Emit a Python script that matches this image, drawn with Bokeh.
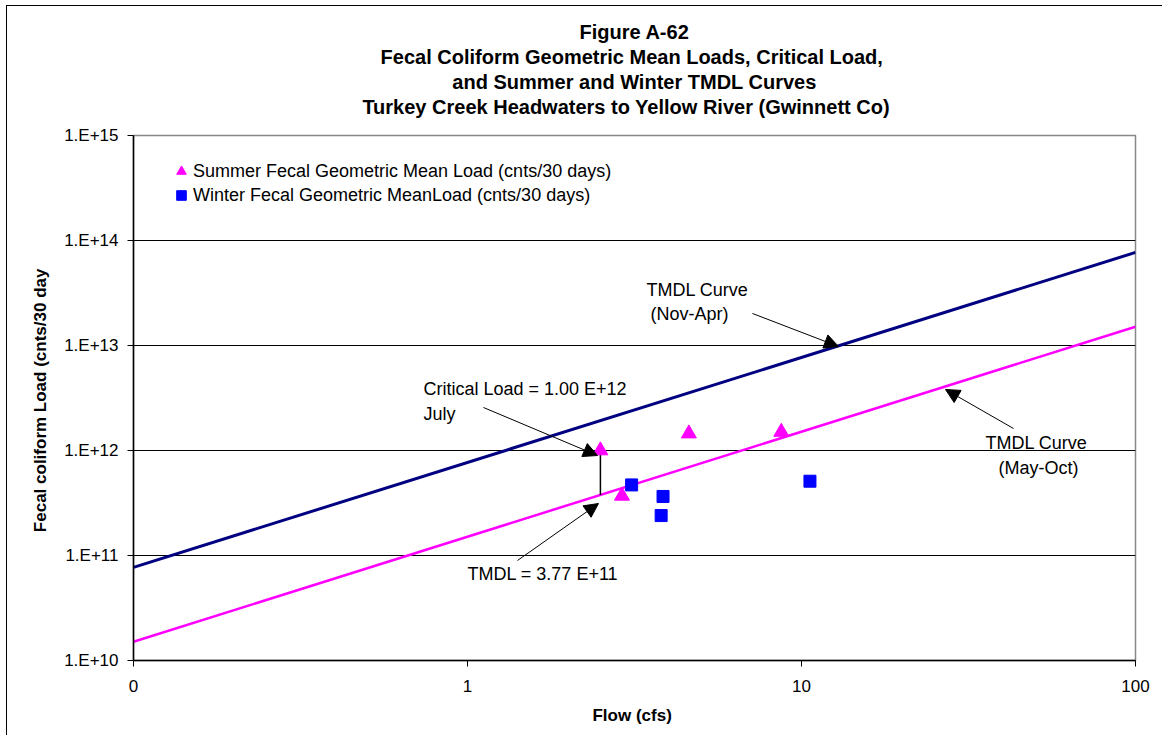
from bokeh.plotting import figure
from bokeh.models import (Range1d, FixedTicker, CustomJSTickFormatter, Label, Arrow,
                          NormalHead, Legend, LegendItem, Title)
from bokeh.embed import file_html
from bokeh.resources import INLINE

# --- data -------------------------------------------------------------
flow_ends = [0.1, 100]                 # flow span of the TMDL curves (cfs)
winter_tmdl = [7.7e10, 7.7e13]         # Nov-Apr TMDL curve (cnts/30 days)
summer_tmdl = [1.51e10, 1.51e13]       # May-Oct TMDL curve (cnts/30 days)

summer_flow = [2.5, 2.9, 4.6, 8.7]
summer_load = [1.0e12, 3.7e11, 1.45e12, 1.5e12]
winter_flow = [3.1, 3.85, 3.8, 10.6]
winter_load = [4.7e11, 3.65e11, 2.4e11, 5.1e11]

critical_flow = 2.5
critical_load = 1.00e12
tmdl_load = 3.77e11

x_ticks = [0.1, 1, 10, 100]
y_ticks = [1e10, 1e11, 1e12, 1e13, 1e14, 1e15]
grid_ticks = [1e11, 1e12, 1e13, 1e14]

title_lines = ["Figure A-62",
               "Fecal Coliform Geometric Mean Loads,  Critical Load,",
               "and Summer and Winter TMDL Curves",
               "Turkey Creek   Headwaters to Yellow River  (Gwinnett Co)"]

FONT = "Liberation Sans"

p = figure(width=1156, height=730, x_axis_type="log", y_axis_type="log",
           x_range=Range1d(0.1, 100), y_range=Range1d(1e10, 1e15),
           output_backend="svg", toolbar_location=None,
           min_border_left=126, min_border_right=28,
           min_border_top=129, min_border_bottom=76)
p.styles = {"margin-left": "6px", "margin-top": "5px",
            "border-left": "1px solid #000", "border-top": "1px solid #000"}

p.background_fill_color = "white"
p.border_fill_color = "white"
p.outline_line_color = "#888888"
p.outline_line_width = 1.5

# title block, stacked outward from the plot frame (a blank spacer sits next to the frame)
p.add_layout(Title(text=" ", text_font_size="1px", standoff=14), "above")
for line in reversed(title_lines):
    p.add_layout(Title(text=line, align="center", text_font=FONT, text_font_size="20px",
                       text_font_style="bold", text_color="black", standoff=1), "above")

# axes
p.xaxis.ticker = FixedTicker(ticks=x_ticks)
p.yaxis.ticker = FixedTicker(ticks=y_ticks)
p.xaxis.formatter = CustomJSTickFormatter(code="return tick < 1 ? '0' : String(Math.round(tick));")
p.yaxis.formatter = CustomJSTickFormatter(code="return '1.E+' + Math.round(Math.log10(tick));")
for ax in (p.xaxis, p.yaxis):
    ax.axis_line_color = "black"
    ax.axis_line_width = 1.5
    ax.major_tick_line_color = "black"
    ax.major_tick_in = 0
    ax.major_tick_out = 6
    ax.minor_tick_line_color = None
    ax.major_label_text_font = FONT
    ax.major_label_text_font_size = "17px"
    ax.major_label_text_color = "black"
    ax.axis_label_text_font = FONT
    ax.axis_label_text_font_style = "bold"
    ax.axis_label_text_color = "black"
    ax.axis_label_text_font_size = "17px"
p.xaxis.axis_label = "Flow  (cfs)"
p.xaxis.major_label_standoff = 13
p.xaxis.axis_label_standoff = 11
p.yaxis.axis_label = "Fecal coliform Load  (cnts/30 day"
p.yaxis.major_label_standoff = 9
p.yaxis.axis_label_standoff = 11

p.xgrid.visible = False
p.ygrid.ticker = FixedTicker(ticks=grid_ticks)
p.ygrid.grid_line_color = "black"
p.ygrid.grid_line_width = 1.2

# TMDL curves
p.line(flow_ends, winter_tmdl, line_color="#000080", line_width=3)
p.line(flow_ends, summer_tmdl, line_color="#FF00FF", line_width=2.5)

# critical-load to TMDL connector
p.segment(x0=[critical_flow], y0=[critical_load], x1=[critical_flow], y1=[tmdl_load],
          line_color="black", line_width=1.5)

# observed geometric mean loads
r_summer = p.scatter(summer_flow, summer_load, marker="triangle", size=15,
                     fill_color="#FF00FF", line_color="#FF00FF")
r_winter = p.scatter(winter_flow, winter_load, marker="square", size=12,
                     fill_color="#0000FF", line_color="#0000FF")

legend = Legend(items=[
    LegendItem(label="Summer Fecal Geometric Mean Load (cnts/30 days)", renderers=[r_summer]),
    LegendItem(label="Winter Fecal Geometric MeanLoad (cnts/30 days)", renderers=[r_winter]),
], location=(36, 453))
legend.border_line_color = None
legend.background_fill_alpha = 0
legend.padding = 0
legend.margin = 0
legend.spacing = 0
legend.glyph_width = 24
legend.glyph_height = 24
legend.label_height = 24
legend.label_standoff = 0
legend.label_text_font = FONT
legend.label_text_font_size = "18px"
legend.label_text_color = "black"
p.add_layout(legend)


def text(x, y, s, align="left"):
    p.add_layout(Label(x=x, y=y, x_units="screen", y_units="screen", text=s,
                       text_align=align, text_baseline="middle",
                       text_font=FONT, text_font_size="18px", text_color="black"))


def arrow(x0, y0, x1, y1):
    p.add_layout(Arrow(x_start=x0, y_start=y0, x_end=x1, y_end=y1,
                       start_units="screen", end_units="screen",
                       line_color="black", line_width=1,
                       end=NormalHead(size=14, fill_color="black", line_color="black")))


# callouts
text(564, 371, "TMDL Curve", align="center")
text(556, 347, "(Nov-Apr)", align="center")
arrow(619, 347, 705, 314)

text(290, 272, "Critical Load = 1.00 E+12")
text(290, 247, "July")
arrow(350, 253, 464, 205)

text(334, 87, "TMDL = 3.77 E+11")
arrow(384, 100, 465, 157)

text(903, 218, "TMDL Curve", align="center")
text(905, 193, "(May-Oct)", align="center")
arrow(880, 232, 812, 271)

open("out.html", "w").write(file_html(p, INLINE))
